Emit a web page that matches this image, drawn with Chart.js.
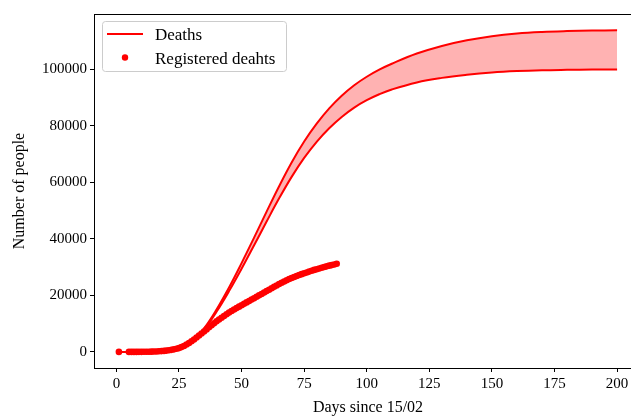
<!DOCTYPE html>
<html>
<head>
<meta charset="utf-8">
<script src="https://cdn.jsdelivr.net/npm/chart.js@4.4.0/dist/chart.umd.min.js"></script>
<style>
  html, body { margin: 0; padding: 0; overflow: hidden; background: #fff; }
  #wrap { width: 631px; height: 417px; overflow: hidden; }
</style>
</head>
<body>
<div id="wrap"><canvas id="chart" width="660" height="417"></canvas></div>
<script>
// model curves (upper / lower bound)
var modelDays = [1, 5, 10, 15, 20, 25, 30, 35, 40, 45, 50, 55, 60, 65, 70, 75, 80, 85, 90, 95, 100, 105, 110, 120, 130, 140, 150, 160, 170, 180, 190, 200];
var deathsHigh = [0, 5, 30, 100, 320, 1000, 3300, 8300, 15000, 22800, 31400, 40400, 49600, 58600, 67000, 74400, 80700, 86100, 90600, 94300, 97300, 99800, 101900, 105500, 108200, 110200, 111650, 112600, 113150, 113450, 113620, 113700];
var deathsLow = [0, 5, 30, 100, 320, 1000, 3100, 7800, 14200, 21500, 29400, 37700, 46100, 54300, 61900, 68600, 74300, 79100, 83100, 86400, 89000, 91100, 92800, 95300, 96900, 98000, 98800, 99300, 99600, 99750, 99850, 99900];

// registered deaths, one per day
var regDays = [1, 5, 6, 7, 8, 9, 10, 11, 12, 13, 14, 15, 16, 17, 18, 19, 20, 21, 22, 23, 24, 25, 26, 27, 28, 29, 30,
  31, 32, 33, 34, 35, 36, 37, 38, 39, 40, 41, 42, 43, 44, 45, 46, 47, 48, 49, 50, 51, 52, 53, 54, 55, 56, 57, 58, 59, 60,
  61, 62, 63, 64, 65, 66, 67, 68, 69, 70, 71, 72, 73, 74, 75, 76, 77, 78, 79, 80, 81, 82, 83, 84, 85, 86, 87, 88];
var regDeaths = [0, 2, 4, 8, 12, 18, 25, 35, 50, 70, 90, 120, 160, 210, 280, 360, 460, 580, 730, 900, 1100, 1350, 1700, 2100, 2600, 3150, 3750,
  4400, 5100, 5800, 6500, 7200, 7950, 8700, 9400, 10100, 10800, 11450, 12100, 12700, 13300, 13900, 14450, 15000, 15500, 16000, 16500, 17000, 17500, 18000, 18500, 19000, 19500, 20000, 20500, 21000, 21500,
  22000, 22500, 23000, 23500, 24000, 24450, 24900, 25350, 25800, 26150, 26500, 26850, 27200, 27500, 27800, 28100, 28400, 28700, 29000, 29250, 29500, 29750, 30000, 30250, 30500, 30700, 30900, 31150];

var xTicks = [0, 25, 50, 75, 100, 125, 150, 175, 200];
var yTicks = [0, 20000, 40000, 60000, 80000, 100000];

function pts(xs, ys) {
  return xs.map(function (x, i) { return { x: x, y: ys[i] }; });
}

Chart.defaults.font.family = "'Liberation Serif', serif";
Chart.defaults.color = '#000';

// top spine + legend box like matplotlib
var frame = {
  id: 'frame',
  afterDraw: function (chart) {
    var ctx = chart.ctx, a = chart.chartArea;
    ctx.save();
    ctx.strokeStyle = '#000';
    ctx.lineWidth = 1;
    ctx.beginPath();
    ctx.moveTo(a.left, a.top + 0.5);
    ctx.lineTo(a.right, a.top + 0.5);
    ctx.stroke();

    ctx.fillStyle = 'rgba(255,255,255,0.8)';
    ctx.strokeStyle = '#cccccc';
    ctx.beginPath();
    ctx.roundRect(102.5, 21.5, 184, 50, 3);
    ctx.fill();
    ctx.stroke();

    ctx.strokeStyle = 'red';
    ctx.lineWidth = 2;
    ctx.beginPath();
    ctx.moveTo(107, 34);
    ctx.lineTo(143, 34);
    ctx.stroke();

    ctx.fillStyle = 'red';
    ctx.beginPath();
    ctx.arc(125, 57.5, 3.2, 0, Math.PI * 2);
    ctx.fill();

    ctx.fillStyle = '#000';
    ctx.font = "17px 'Liberation Serif'";
    ctx.textBaseline = 'alphabetic';
    ctx.fillText('Deaths', 155, 39.5);
    ctx.fillText('Registered deahts', 155, 63.5);
    ctx.restore();
  }
};

new Chart(document.getElementById('chart'), {
  type: 'line',
  data: {
    datasets: [
      {
        label: 'Registered deahts',
        data: pts(regDays, regDeaths),
        showLine: false,
        pointRadius: 3.3,
        pointBorderWidth: 0,
        pointBackgroundColor: 'red',
        backgroundColor: 'red'
      },
      {
        label: 'Deaths',
        data: pts(modelDays, deathsHigh),
        borderColor: 'red',
        borderWidth: 2,
        pointRadius: 0,
        tension: 0.4,
        fill: '+1',
        backgroundColor: 'rgba(255,0,0,0.3)'
      },
      {
        label: 'Deaths low',
        data: pts(modelDays, deathsLow),
        borderColor: 'red',
        borderWidth: 2,
        pointRadius: 0,
        tension: 0.4,
        fill: false
      }
    ]
  },
  options: {
    responsive: false,
    animation: false,
    layout: { padding: { left: 0, top: 14, right: 18, bottom: 0 } },
    plugins: { legend: { display: false }, tooltip: { enabled: false } },
    scales: {
      x: {
        type: 'linear',
        min: -8.95,
        max: 209.95,
        afterBuildTicks: function (s) { s.ticks = xTicks.map(function (v) { return { value: v }; }); },
        afterFit: function (s) { s.height = 49; },
        grid: { drawOnChartArea: false, tickLength: 4, tickColor: '#000' },
        border: { color: '#000', width: 1 },
        ticks: { font: { size: 15 }, padding: 3, maxRotation: 0, autoSkip: false, callback: function (v) { return String(v); } },
        title: { display: true, text: 'Days since 15/02', font: { size: 16 }, padding: { top: 0, bottom: 0 } }
      },
      y: {
        type: 'linear',
        min: -5690,
        max: 119490,
        afterBuildTicks: function (s) { s.ticks = yTicks.map(function (v) { return { value: v }; }); },
        afterFit: function (s) { s.width = 94; },
        grid: { drawOnChartArea: false, tickLength: 4, tickColor: '#000' },
        border: { color: '#000', width: 1 },
        ticks: { font: { size: 15 }, padding: 3, autoSkip: false, callback: function (v) { return String(v); } },
        title: { display: true, text: 'Number of people', font: { size: 16 }, padding: { top: 10, bottom: 0 } }
      }
    }
  },
  plugins: [frame]
});
</script>
</body>
</html>
